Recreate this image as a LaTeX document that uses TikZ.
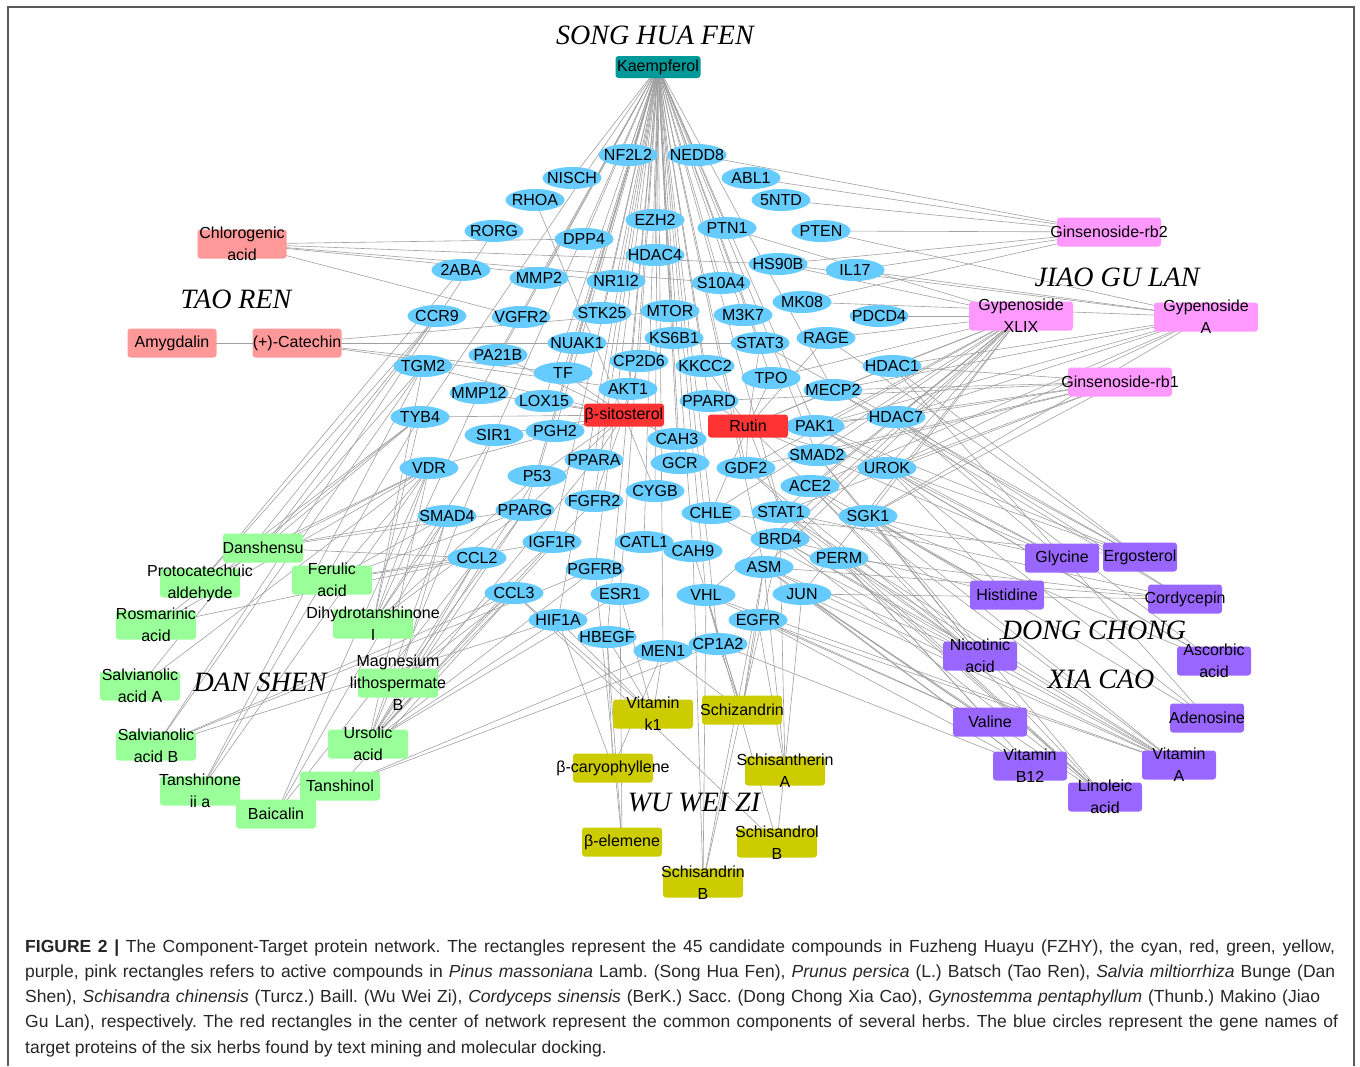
\documentclass[tikz,border=0pt]{standalone}
\usepackage{fontspec}
\setmainfont{Liberation Sans}
\newfontfamily\serifit{Liberation Serif}
\usetikzlibrary{shapes.geometric}
\pgfdeclarelayer{bg}
\pgfsetlayers{bg,main}
\definecolor{protc}{RGB}{102,204,255}
\definecolor{tealc}{RGB}{0,153,153}
\definecolor{taoc}{RGB}{255,153,153}
\definecolor{redc}{RGB}{255,51,51}
\definecolor{dsc}{RGB}{153,255,153}
\definecolor{wwc}{RGB}{204,204,0}
\definecolor{dcc}{RGB}{153,102,255}
\definecolor{jgc}{RGB}{255,153,255}
\definecolor{edgec}{RGB}{160,160,160}
\definecolor{framec}{RGB}{90,90,90}
\frenchspacing
\tikzset{
  prot/.style={ellipse, fill=protc, draw=none, minimum width=59pt, minimum height=22pt, inner sep=0pt},
  lbl/.style={font=\fontsize{16}{22}\selectfont, inner sep=0pt, align=center, text=black},
  cbox/.style={rectangle, rounded corners=3pt, draw=none, inner sep=0pt, minimum width=80pt, minimum height=29pt},
  tealbox/.style={cbox, fill=tealc, minimum width=85pt, minimum height=22pt},
  taobox/.style={cbox, fill=taoc, minimum width=89pt},
  redbox/.style={cbox, fill=redc, minimum height=23pt},
  dsbox/.style={cbox, fill=dsc},
  wwbox/.style={cbox, fill=wwc},
  dcbox/.style={cbox, fill=dcc, minimum width=74pt},
  jgbox/.style={cbox, fill=jgc, minimum width=104pt},
  edge/.style={draw=edgec, line width=0.6pt},
  herb/.style={font=\serifit\itshape\fontsize{28}{30}\selectfont, inner sep=0pt, text=black},
  capline/.style={anchor=base west, inner sep=0pt, font=\fontsize{17.5}{25}\selectfont\frenchspacing, text=black!85}
}
\newcommand\pn[3]{\node[prot] (#1) at (#2) {}; \node[lbl] at (#1.center) {#3};}
\newcommand\cn[4]{\node[#3] (#1) at (#2) {}; \node[lbl] at (#1.center) {#4};}
\newcommand\links[2]{\foreach \tg in {#2}{\draw[edge] (#1.center) -- (\tg.center);}}
\begin{document}
\begin{tikzpicture}[x=1pt,y=-1pt]
\useasboundingbox (0,0) rectangle (1360,1066);
\draw[framec, line width=1.2pt] (8,1066) -- (8,7) -- (1354,7) -- (1354,1066);
% proteins
\pn{NF2L2}{628,155}{NF2L2}
\pn{NEDD8}{697,155}{NEDD8}
\pn{NISCH}{572,178}{NISCH}
\pn{ABL1}{751,178}{ABL1}
\pn{RHOA}{535,200}{RHOA}
\pn{NTDv}{781,200}{5NTD}
\pn{EZH2}{655,220}{EZH2}
\pn{RORG}{494,231}{RORG}
\pn{DPP4}{584,239}{DPP4}
\pn{PTN1}{727,228}{PTN1}
\pn{PTEN}{821,231}{PTEN}
\pn{HDAC4}{655,255}{HDAC4}
\pn{HS90B}{778,264}{HS90B}
\pn{ABAv}{461,270}{2ABA}
\pn{MMP2}{539,278}{MMP2}
\pn{NR1I2}{616,281}{NR1I2}
\pn{S10A4}{721,283}{S10A4}
\pn{IL17}{855,270}{IL17}
\pn{MK08}{802,302}{MK08}
\pn{CCR9}{437,316}{CCR9}
\pn{VGFR2}{521,317}{VGFR2}
\pn{STK25}{602,313}{STK25}
\pn{MTOR}{670,311}{MTOR}
\pn{M3K7}{743,315}{M3K7}
\pn{PDCD4}{879,316}{PDCD4}
\pn{NUAK1}{577,343}{NUAK1}
\pn{KS6B1}{674,338}{KS6B1}
\pn{STAT3}{760,343}{STAT3}
\pn{RAGE}{826,338}{RAGE}
\pn{TGM2}{423,366}{TGM2}
\pn{PA21B}{498,355}{PA21B}
\pn{TF}{563,373}{TF}
\pn{CP2D6}{639,361}{CP2D6}
\pn{KKCC2}{705,366}{KKCC2}
\pn{TPO}{771,378}{TPO}
\pn{HDAC1}{892,366}{HDAC1}
\pn{MMP12}{479,393}{MMP12}
\pn{AKT1}{628,389}{AKT1}
\pn{LOX15}{544,401}{LOX15}
\pn{PPARD}{709,401}{PPARD}
\pn{MECP2}{833,390}{MECP2}
\pn{TYB4}{420,417}{TYB4}
\pn{HDAC7}{896,417}{HDAC7}
\pn{PAK1}{815,426}{PAK1}
\pn{SIR1}{494,435}{SIR1}
\pn{PGH2}{555,431}{PGH2}
\pn{CAH3}{677,439}{CAH3}
\pn{SMAD2}{817,455}{SMAD2}
\pn{VDR}{429,468}{VDR}
\pn{PPARA}{594,460}{PPARA}
\pn{GCR}{680,463}{GCR}
\pn{GDF2}{746,468}{GDF2}
\pn{UROK}{887,468}{UROK}
\pn{P53}{537,476}{P53}
\pn{CYGB}{655,491}{CYGB}
\pn{ACE2}{810,486}{ACE2}
\pn{FGFR2}{594,501}{FGFR2}
\pn{PPARG}{525,510}{PPARG}
\pn{SMAD4}{447,516}{SMAD4}
\pn{CHLE}{711,513}{CHLE}
\pn{STAT1}{781,512}{STAT1}
\pn{SGK1}{868,516}{SGK1}
\pn{IGF1R}{552,542}{IGF1R}
\pn{CATL1}{644,542}{CATL1}
\pn{CAH9}{693,551}{CAH9}
\pn{BRD4}{780,539}{BRD4}
\pn{CCL2}{477,558}{CCL2}
\pn{PERM}{839,558}{PERM}
\pn{PGFRB}{595,569}{PGFRB}
\pn{ASM}{764,567}{ASM}
\pn{CCL3}{514,593}{CCL3}
\pn{ESR1}{620,594}{ESR1}
\pn{VHL}{706,595}{VHL}
\pn{JUN}{802,594}{JUN}
\pn{HIF1A}{558,620}{HIF1A}
\pn{EGFR}{758,620}{EGFR}
\pn{HBEGF}{607,637}{HBEGF}
\pn{MEN1}{663,651}{MEN1}
\pn{CP1A2}{718,644}{CP1A2}
% compounds
\cn{kaem}{658,67}{tealbox}{Kaempferol}
\cn{chlor}{242,244}{taobox}{Chlorogenic\\acid}
\cn{amyg}{172,343}{taobox}{Amygdalin}
\cn{catech}{297,343}{taobox}{(+)-Catechin}
\cn{bsit}{624,415}{redbox}{β-sitosterol}
\cn{rutin}{748,426}{redbox}{Rutin}
\cn{dshs}{263,548}{dsbox}{Danshensu}
\cn{proto}{200,583}{dsbox}{Protocatechuic\\aldehyde}
\cn{feru}{332,580}{dsbox}{Ferulic\\acid}
\cn{rosm}{156,625}{dsbox}{Rosmarinic\\acid}
\cn{dihy}{373,624}{dsbox}{Dihydrotanshinone\\I}
\cn{salA}{140,686}{dsbox}{Salvianolic\\acid A}
\cn{magn}{398,683}{dsbox}{Magnesium\\lithospermate\\B}
\cn{salB}{156,746}{dsbox}{Salvianolic\\acid B}
\cn{urs}{368,744}{dsbox}{Ursolic\\acid}
\cn{tanA}{200,791}{dsbox}{Tanshinone\\ii a}
\cn{tanol}{340,786}{dsbox}{Tanshinol}
\cn{baic}{276,814}{dsbox}{Baicalin}
\cn{vitk}{653,714}{wwbox}{Vitamin\\k1}
\cn{schiz}{742,710}{wwbox}{Schizandrin}
\cn{bcar}{613,768}{wwbox}{β-caryophyllene}
\cn{santh}{785,771}{wwbox}{Schisantherin\\A}
\cn{belem}{622,842}{wwbox}{β-elemene}
\cn{sandB}{777,843}{wwbox}{Schisandrol\\B}
\cn{sdrB}{703,883}{wwbox}{Schisandrin\\B}
\cn{gly}{1062,558}{dcbox}{Glycine}
\cn{ergo}{1140,557}{dcbox}{Ergosterol}
\cn{hist}{1007,595}{dcbox}{Histidine}
\cn{cordy}{1185,599}{dcbox}{Cordycepin}
\cn{nico}{980,656}{dcbox}{Nicotinic\\acid}
\cn{asco}{1214,661}{dcbox}{Ascorbic\\acid}
\cn{val}{990,722}{dcbox}{Valine}
\cn{adeno}{1207,718}{dcbox}{Adenosine}
\cn{vbtw}{1030,766}{dcbox}{Vitamin\\B12}
\cn{vitA}{1179,765}{dcbox}{Vitamin\\A}
\cn{lino}{1105,797}{dcbox}{Linoleic\\acid}
\cn{gsrb2}{1109,232}{jgbox}{Ginsenoside-rb2}
\cn{gxlix}{1021,316}{jgbox}{Gypenoside\\XLIX}
\cn{gypa}{1206,317}{jgbox}{Gypenoside\\A}
\cn{gsrb1}{1120,382}{jgbox}{Ginsenoside-rb1}
% herb titles
\node[herb] (hsong) at (655,35) {SONG HUA FEN};
\node[herb] (htao) at (236,299) {TAO REN};
\node[herb] (hjiao) at (1117,277) {JIAO GU LAN};
\node[herb] (hdan) at (260,682) {DAN SHEN};
\node[herb] (hdong) at (1094,630) {DONG CHONG};
\node[herb] (hxia) at (1101,679) {XIA CAO};
\node[herb] (hwu) at (694,803) {WU WEI ZI};
% edges
\begin{pgfonlayer}{bg}
\links{kaem}{NF2L2,NEDD8,NISCH,EZH2,DPP4,HDAC4,NR1I2,PTN1,S10A4,STK25,MTOR,M3K7,KS6B1,NUAK1,CP2D6,TF,AKT1,KKCC2,STAT3,PPARD,LOX15,PGH2,CAH3,PPARA,GCR,CYGB,FGFR2,CHLE,CATL1,CAH9,PGFRB,ESR1,VHL,HIF1A,HBEGF,MEN1,CP1A2,MMP2,TPO,GDF2,P53,TYB4,MMP12,SIR1,PA21B,PPARG,MECP2,PAK1,SMAD2,STAT1,ASM,IGF1R}
\links{chlor}{DPP4,HS90B,S10A4,NR1I2,VGFR2}
\links{catech}{MTOR,NUAK1,AKT1,TF}
\links{amyg}{STAT3}
\links{bsit}{TF,AKT1,LOX15,PGH2,SIR1,MMP12,TYB4,CAH3,PPARA,P53,PPARG,CP2D6,PA21B,TGM2,VDR,FGFR2,CYGB,RHOA}
\links{rutin}{PAK1,PPARD,TPO,STAT3,KKCC2,MECP2,HDAC7,SMAD2,GDF2,ACE2,STAT1,HDAC1,RAGE,UROK,CHLE}
\links{gsrb2}{NEDD8,ABL1,NTDv,PTEN,HS90B,IL17,MK08}
\links{gxlix}{PTN1,HS90B,RAGE,PDCD4,TPO,MECP2,HDAC1,PAK1,HDAC7,UROK,SMAD2,GDF2,ACE2,STAT1,SGK1,BRD4,ASM,CHLE,JUN,VHL}
\links{gypa}{IL17,MK08,HS90B,PTEN,HDAC1,MECP2,HDAC7,UROK,PAK1,SGK1,ACE2}
\links{gsrb1}{HDAC1,MECP2,PAK1,HDAC7,UROK,SMAD2,SGK1,STAT1,GDF2,PPARD}
\links{gly}{HDAC7,UROK,SMAD2,SGK1,PAK1}
\links{ergo}{HDAC1,MECP2,PAK1,RAGE,STAT3,UROK,CHLE}
\links{hist}{SGK1,UROK,ACE2,BRD4}
\links{cordy}{JUN,PERM,ASM,STAT1,HDAC7,MECP2}
\links{nico}{STAT1,ACE2,BRD4,ASM,SGK1,PERM,GDF2,SMAD2}
\links{asco}{HDAC7,SGK1,UROK,PAK1}
\links{val}{JUN,PERM,EGFR,ASM,VHL}
\links{adeno}{SGK1,UROK,HDAC1}
\links{vbtw}{ASM,JUN,EGFR,PERM,CP1A2}
\links{vitA}{PERM,JUN,ASM,EGFR,SGK1,STAT1,BRD4,VHL,ACE2,CHLE}
\links{lino}{ACE2,SMAD2,PERM,JUN,STAT1,BRD4,GDF2}
\links{vitk}{HBEGF,HIF1A,CCL3,ESR1,MEN1}
\links{schiz}{VHL,CP1A2,EGFR,MEN1,CAH9,ASM}
\links{bcar}{MEN1,HIF1A,HBEGF}
\links{belem}{HBEGF,ESR1,PGFRB}
\links{santh}{EGFR,ASM,BRD4}
\links{sandB}{CCL3,JUN,VHL}
\links{sdrB}{BRD4,ASM,CAH9,VHL}
\links{dshs}{SMAD4,PPARG,CCL2,TGM2,TYB4,VDR,CCR9}
\links{proto}{TYB4,VDR,CCR9,ABAv}
\links{feru}{SMAD4,PPARG,CCL2,IGF1R,VDR}
\links{rosm}{CCL2,VDR,TYB4}
\links{dihy}{VDR,SMAD4,TYB4,TGM2,P53,SIR1,PPARG,MMP12}
\links{salA}{VDR,CCR9}
\links{magn}{CCL2,CCL3,SMAD4,PPARG,IGF1R}
\links{salB}{CCL3,HIF1A,PGFRB,TGM2,RORG}
\links{urs}{PPARG,P53,SMAD4,CCL2,CCL3,IGF1R,PGFRB,ESR1,HIF1A,FGFR2,PPARA,SIR1,VDR}
\links{tanA}{TYB4,TGM2,VDR}
\links{tanol}{CP1A2,MEN1,CCL3}
\links{baic}{VDR,SMAD4,CCL2}
\end{pgfonlayer}
% caption
\node[capline] (cap1) at (25,952) {\makebox[1310pt][s]{\textbf{FIGURE 2 |} The Component-Target protein network. The rectangles represent the 45 candidate compounds in Fuzheng Huayu (FZHY), the cyan, red, green, yellow,}};
\node[capline] (cap2) at (25,977) {\makebox[1310pt][s]{purple, pink rectangles refers to active compounds in \textit{Pinus massoniana} Lamb. (Song Hua Fen), \textit{Prunus persica} (L.) Batsch (Tao Ren), \textit{Salvia miltiorrhiza} Bunge (Dan}};
\node[capline] (cap3) at (25,1002) {\makebox[1295pt][s]{Shen), \textit{Schisandra chinensis} (Turcz.) Baill. (Wu Wei Zi), \textit{Cordyceps sinensis} (BerK.) Sacc. (Dong Chong Xia Cao), \textit{Gynostemma pentaphyllum} (Thunb.) Makino (Jiao}};
\node[capline] (cap4) at (25,1027) {\makebox[1313pt][s]{Gu Lan), respectively. The red rectangles in the center of network represent the common components of several herbs. The blue circles represent the gene names of}};
\node[capline] (cap5) at (25,1053) {target proteins of the six herbs found by text mining and molecular docking.};
\end{tikzpicture}
\end{document}
